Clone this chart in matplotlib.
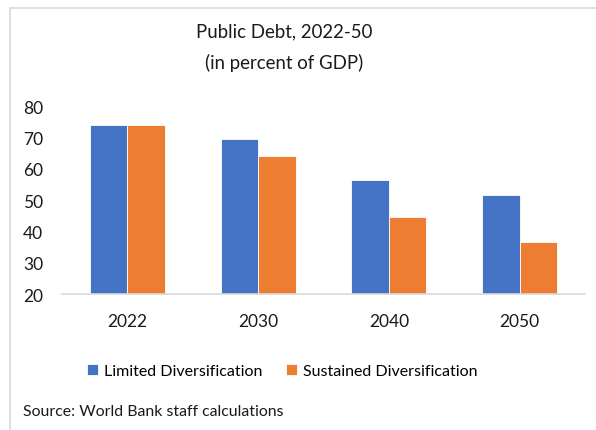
import numpy as np
import matplotlib.pyplot as plt
from matplotlib.patches import Rectangle

years = ["2022", "2030", "2040", "2050"]
limited = [73.8, 69.6, 56.3, 51.7]
sustained = [73.8, 64.0, 44.5, 36.7]

plt.rcParams['font.family'] = ['Lato', 'DejaVu Sans']

fig = plt.figure(figsize=(5.96, 4.31), dpi=100)
ax = fig.add_axes([62/596, 1-295/431, 523/596, 188/431])

x = np.arange(len(years))
w = 0.286
ax.bar(x - w/2, limited, w, color="#4472C4", edgecolor="white", linewidth=0.6,
       label="Limited Diversification")
ax.bar(x + w/2, sustained, w, color="#ED7D31", edgecolor="white", linewidth=0.6,
       label="Sustained Diversification")

ax.set_xlim(-0.5, 3.5)
ax.set_ylim(20, 80)
ax.set_yticks(range(20, 81, 10))
ax.set_xticks(x)
ax.set_xticklabels(years)
ax.tick_params(axis="both", length=0, labelsize=12.5, colors="#1a1a1a")
ax.tick_params(axis="y", pad=13.5)
ax.tick_params(axis="x", pad=14)
for s in ["top", "right", "left"]:
    ax.spines[s].set_visible(False)
ax.spines["bottom"].set_color("#D9D9D9")
ax.spines["bottom"].set_linewidth(1.2)

fig.text(284/596, 1-32/431, "Public Debt, 2022-50", ha="center", va="center",
         fontsize=13.4, color="#1a1a1a")
fig.text(284/596, 1-63/431, "(in percent of GDP)", ha="center", va="center",
         fontsize=13.4, color="#1a1a1a")

fig.legend(loc="center", bbox_to_anchor=(282/596, 1-372/431), ncol=2, frameon=False,
           fontsize=11.5, handlelength=0.7, handleheight=0.7, handletextpad=0.35,
           columnspacing=1.5)

fig.text(23/596, 1-412/431, "Source: World Bank staff calculations", ha="left",
         va="center", fontsize=11.4, color="#1a1a1a")

# chart border (only top and left visible in the crop)
fig.patches.append(Rectangle((9.5/596, -0.1), 1.2, (431-8.5)/431 + 0.1,
                             transform=fig.transFigure, fill=False,
                             edgecolor="#D9D9D9", linewidth=1.2))

fig.savefig("out.png", dpi=100)
